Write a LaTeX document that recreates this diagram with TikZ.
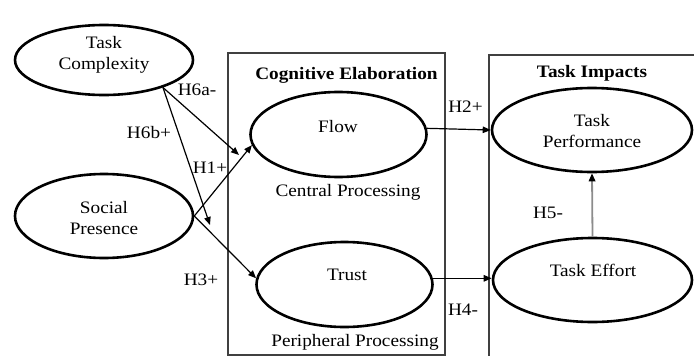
\documentclass[tikz,border=0pt]{standalone}
\usepackage{fontspec}
\setmainfont{Liberation Serif}[FakeStretch=1.1]
\usetikzlibrary{shapes.geometric,arrows.meta}
\begin{document}
\begin{tikzpicture}[x=1pt,y=-1pt,
  lat/.style={draw=black, line width=2.6pt, ellipse, inner sep=0pt},
  txt/.style={font=\fontsize{17.5}{21}\selectfont, align=center, inner sep=0pt},
  btxt/.style={font=\fontsize{17.5}{21}\selectfont\bfseries, align=center, inner sep=0pt},
  frame/.style={draw=black!75, line width=1.6pt, rectangle, inner sep=0pt},
  arr/.style={line width=1.2pt, -{Triangle[length=8pt,width=6.5pt]}},
  garr/.style={line width=1.8pt, draw=black!45, -{Triangle[length=8pt,width=6.5pt,color=black]}},
]
\useasboundingbox (0,0) rectangle (694,356);
\clip (0,0) rectangle (694,356);

% boxes
\node[frame, minimum width=217pt, minimum height=302pt] (ce) at (336.5,204) {};
\node[frame, minimum width=220pt, minimum height=315pt] (ti) at (599,212.5) {};

% latent variables
\node[lat, minimum width=178pt, minimum height=70pt] (tc) at (104,60) {};
\node[lat, minimum width=178pt, minimum height=84pt] (sp) at (104,216) {};
\node[lat, minimum width=176pt, minimum height=85pt] (flow) at (338.5,134.5) {};
\node[lat, minimum width=176pt, minimum height=85pt] (trust) at (344.5,284.5) {};
\node[lat, minimum width=200pt, minimum height=84pt] (tp) at (592,130) {};
\node[lat, minimum width=199pt, minimum height=84pt] (te) at (592.5,280) {};

% texts
\node[txt] (tctext) at (104,55) {Task\\Complexity};
\node[txt] (sptext) at (104,218) {Social\\Presence};
\node[txt] (flowtext) at (338,127) {Flow};
\node[txt] (cp) at (348,192) {Central Processing};
\node[txt] (trusttext) at (347,275) {Trust};
\node[txt] (pp) at (355,342) {Peripheral Processing};
\node[btxt] (cetitle) at (346.5,75) {Cognitive Elaboration};
\node[btxt] (tititle) at (592,73) {Task Impacts};
\node[txt] (tptext) at (592,131) {Task\\Performance};
\node[txt] (tetext) at (593,270) {Task Effort};

% connectors
\coordinate (m1) at (239,155);
\coordinate (m3) at (210,225);
\draw[arr] (tc.-25) -- (m1);
\draw[arr] (tc.-25) -- (m3);
\draw[arr] (sp.east) -- (flow.187);
\draw[arr] (sp.east) -- (trust.176);
\draw[arr] (flow.4) -- (tp.west);
\draw[arr] (trust.4) -- (trust.4 -| te.west);
\draw[garr] (te.north) -- (tp.south);

% hypothesis labels
\node[txt] (h6a) at (197,90) {H6a-};
\node[txt] (h6b) at (149,133) {H6b+};
\node[txt] (h1) at (210,168) {H1+};
\node[txt] (h3) at (201,280) {H3+};
\node[txt] (h2) at (465.5,107) {H2+};
\node[txt] (h4) at (463,310) {H4-};
\node[txt] (h5) at (548,213) {H5-};
\end{tikzpicture}
\end{document}
